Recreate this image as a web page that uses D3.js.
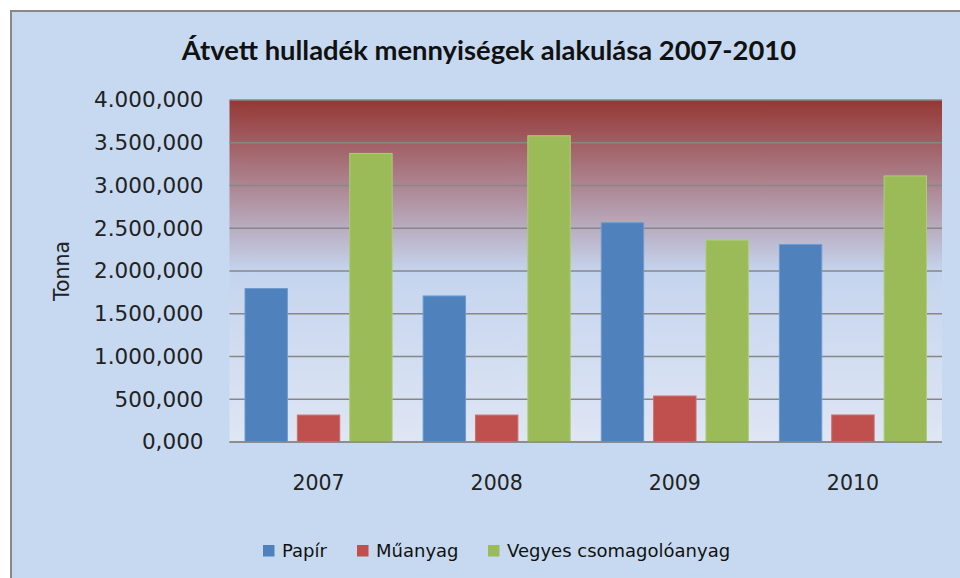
<!DOCTYPE html>
<html><head><meta charset="utf-8">
<script src="https://cdn.jsdelivr.net/npm/d3@7"></script>
<style>html,body{margin:0;padding:0;background:#fff;}svg{display:block;}</style>
</head><body>
<svg id="c" width="960" height="578"></svg>
<script>
const title = "Átvett hulladék mennyiségek alakulása 2007-2010";
const yAxisTitle = "Tonna";
const years = ["2007", "2008", "2009", "2010"];
const seriesNames = ["Papír", "Műanyag", "Vegyes csomagolóanyag"];
const papir = [1795, 1708, 2565, 2310];
const muanyag = [315, 315, 538, 316];
const vegyes = [3375, 3582, 2362, 3112];
const yTicks = [0, 500, 1000, 1500, 2000, 2500, 3000, 3500, 4000];
const colors = ["#4f81bd", "#c0504d", "#9bbb59"];
const strokes = ["#6f9bd0", "#d06c69", "#b0cc78"];

const values = [papir, muanyag, vegyes];
const data = years.map((y, i) => ({year: y, vals: seriesNames.map((s, j) => ({series: s, idx: j, v: values[j][i]}))}));

const svg = d3.select("#c");
const plot = {l: 229.5, r: 942, t: 100, b: 442};

// chart background
svg.append("rect").attr("x", 11).attr("y", 11).attr("width", 960).attr("height", 600)
  .attr("fill", "#c6d9f0").attr("stroke", "#888888").attr("stroke-width", 2);

const defs = svg.append("defs");
const grad = defs.append("linearGradient").attr("id", "pg").attr("x1", 0).attr("y1", 0).attr("x2", 0).attr("y2", 1);
grad.append("stop").attr("offset", "0%").attr("stop-color", "#953735");
grad.append("stop").attr("offset", "50%").attr("stop-color", "#c5d4ee");
grad.append("stop").attr("offset", "100%").attr("stop-color", "#dfe6f4");

const x0 = d3.scaleBand().domain(years).range([plot.l, plot.r]).padding(0);
const x1 = d3.scaleBand().domain(seriesNames)
  .range([15.5, x0.bandwidth() - 15.5]).paddingInner(0.19).paddingOuter(0);
const y = d3.scaleLinear().domain([0, 4000]).range([plot.b, plot.t]);

svg.append("rect").attr("x", plot.l).attr("y", plot.t)
  .attr("width", plot.r - plot.l).attr("height", plot.b - plot.t).attr("fill", "url(#pg)");

const loc = d3.formatLocale({decimal: ",", thousands: ".", grouping: [3], currency: ["", ""]});
const fmt = loc.format(",.3f");

// gridlines
svg.append("g").selectAll("line").data(yTicks).join("line")
  .attr("x1", plot.l).attr("x2", plot.r)
  .attr("y1", d => y(d)).attr("y2", d => y(d))
  .attr("stroke", "#878787").attr("stroke-width", 1.5);

// y axis labels
const yAxis = d3.axisLeft(y).tickValues(yTicks).tickFormat(fmt).tickSize(0).tickPadding(0);
const gy = svg.append("g").attr("transform", `translate(${plot.l - 26},0)`).call(yAxis);
gy.select(".domain").remove();
gy.selectAll("text").attr("font-family", "DejaVu Sans").attr("font-size", 21.5).attr("fill", "#222");

// bars
const groups = svg.append("g").selectAll("g").data(data).join("g")
  .attr("transform", d => `translate(${x0(d.year)},0)`);
groups.selectAll("rect").data(d => d.vals).join("rect")
  .attr("x", d => x1(d.series)).attr("width", x1.bandwidth())
  .attr("y", d => y(d.v)).attr("height", d => y(0) - y(d.v))
  .attr("fill", d => colors[d.idx]).attr("stroke", d => strokes[d.idx]).attr("stroke-width", 1);

// baseline
svg.append("line").attr("x1", plot.l).attr("x2", plot.r).attr("y1", y(0)).attr("y2", y(0))
  .attr("stroke", "#878787").attr("stroke-width", 1.5);

// x axis labels
const xAxis = d3.axisBottom(x0).tickSize(0).tickPadding(0);
const gx = svg.append("g").attr("transform", `translate(0,${plot.b + 33})`).call(xAxis);
gx.select(".domain").remove();
gx.selectAll("text").attr("font-family", "DejaVu Sans").attr("font-size", 20.5).attr("fill", "#222");

// title
svg.append("text").attr("x", 489).attr("y", 60).attr("text-anchor", "middle")
  .attr("font-family", "Lato").attr("font-weight", "bold").attr("font-size", 27.4).attr("fill", "#111")
  .text(title);

// y axis title
svg.append("text").attr("transform", "translate(69,271) rotate(-90)").attr("text-anchor", "middle")
  .attr("font-family", "DejaVu Sans").attr("font-size", 20.5).attr("fill", "#222").text(yAxisTitle);

// legend
const legX = [263, 357, 488];
const leg = svg.append("g").selectAll("g").data(seriesNames).join("g")
  .attr("transform", (d, i) => `translate(${legX[i]},545)`);
leg.append("rect").attr("width", 11.5).attr("height", 11.5).attr("fill", (d, i) => colors[i]);
leg.append("text").attr("x", 19).attr("y", 12).attr("font-family", "DejaVu Sans").attr("font-size", 18)
  .attr("fill", "#111").text(d => d);
</script>
</body></html>
